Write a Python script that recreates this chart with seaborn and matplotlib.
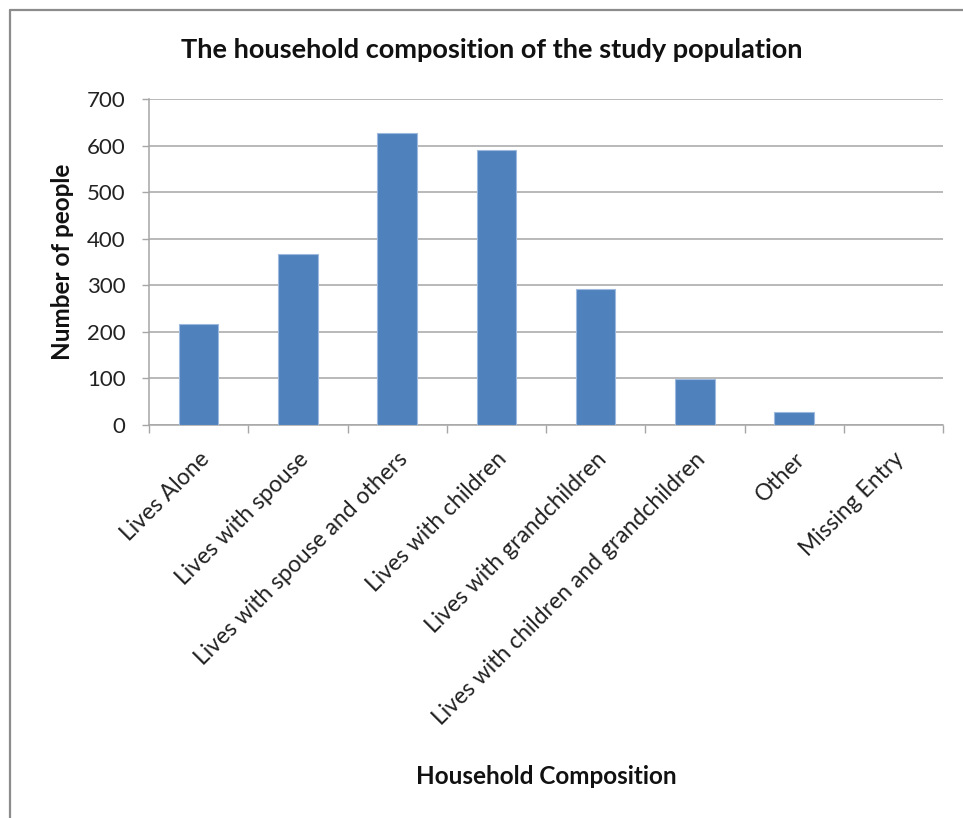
import matplotlib
matplotlib.use("Agg")
import matplotlib.pyplot as plt
from matplotlib.lines import Line2D
import seaborn as sns
import pandas as pd

categories = [
    "Lives Alone",
    "Lives with spouse",
    "Lives with spouse and others",
    "Lives with children",
    "Lives with grandchildren",
    "Lives with children and grandchildren",
    "Other",
    "Missing Entry",
]
counts = [216, 367, 627, 590, 292, 98, 28, 0]
y_ticks = [0, 100, 200, 300, 400, 500, 600, 700]

df = pd.DataFrame({"category": categories, "count": counts})

sns.set_theme(style="white")
plt.rcParams["font.family"] = ["Lato", "DejaVu Sans"]

W, H, DPI = 963, 818, 100
fig = plt.figure(figsize=(W / DPI, H / DPI), dpi=DPI, facecolor="white")
ax = fig.add_axes([149 / W, 1 - 424.7 / H, (943 - 149) / W, (424.7 - 99.3) / H])

sns.barplot(data=df, x="category", y="count", ax=ax, color="#4F81BD",
            saturation=1, width=0.4, edgecolor="#9DB9DD", linewidth=0.8,
            zorder=3)

grid_col = "#a6a6a6"
text_col = "#222222"
ax.set_ylim(0, 700)
ax.set_xlim(-0.5, len(categories) - 0.5)
ax.set_yticks(y_ticks)
ax.set_yticklabels([str(v) for v in y_ticks], fontsize=16, color=text_col)
ax.yaxis.grid(True, color=grid_col, linewidth=1.1, zorder=0)
ax.set_axisbelow(True)

# category labels at centres, tick marks at category boundaries
ax.set_xticks(range(len(categories)))
ax.set_xticklabels(categories, rotation=45, ha="right", rotation_mode="anchor",
                   fontsize=16.5, color=text_col)
ax.set_xticks([i - 0.5 for i in range(len(categories) + 1)], minor=True)
ax.tick_params(axis="x", which="major", length=0, pad=17)
ax.tick_params(axis="x", which="minor", length=6, width=1, color=grid_col,
               direction="out", bottom=True)
ax.tick_params(axis="y", which="major", length=5, width=1, color=grid_col,
               direction="out", left=True, pad=12)

for side in ("top", "right"):
    ax.spines[side].set_visible(False)
for side in ("left", "bottom"):
    ax.spines[side].set_color(grid_col)
    ax.spines[side].set_linewidth(1.1)

ax.set_xlabel("")
ax.set_ylabel("")

fig.text(491.5 / W, 1 - 50 / H,
         "The household composition of the study population",
         ha="center", va="center", fontsize=19.5, fontweight="bold",
         color="#111111")
fig.text(62 / W, 1 - 262 / H, "Number of people", rotation=90,
         ha="center", va="center", fontsize=17.5, fontweight="bold",
         color="#111111")
fig.text(546 / W, 1 - 777 / H, "Household Composition",
         ha="center", va="center", fontsize=17.5, fontweight="bold",
         color="#111111")

# chart-area frame along the top and left edges
frame_col = "#8c8c8c"
fig.add_artist(Line2D([10 / W, 1.0], [1 - 10 / H, 1 - 10 / H],
                      transform=fig.transFigure, color=frame_col, linewidth=1.6))
fig.add_artist(Line2D([10 / W, 10 / W], [0.0, 1 - 10 / H],
                      transform=fig.transFigure, color=frame_col, linewidth=1.6))

fig.savefig("out.png", dpi=DPI, facecolor="white")
